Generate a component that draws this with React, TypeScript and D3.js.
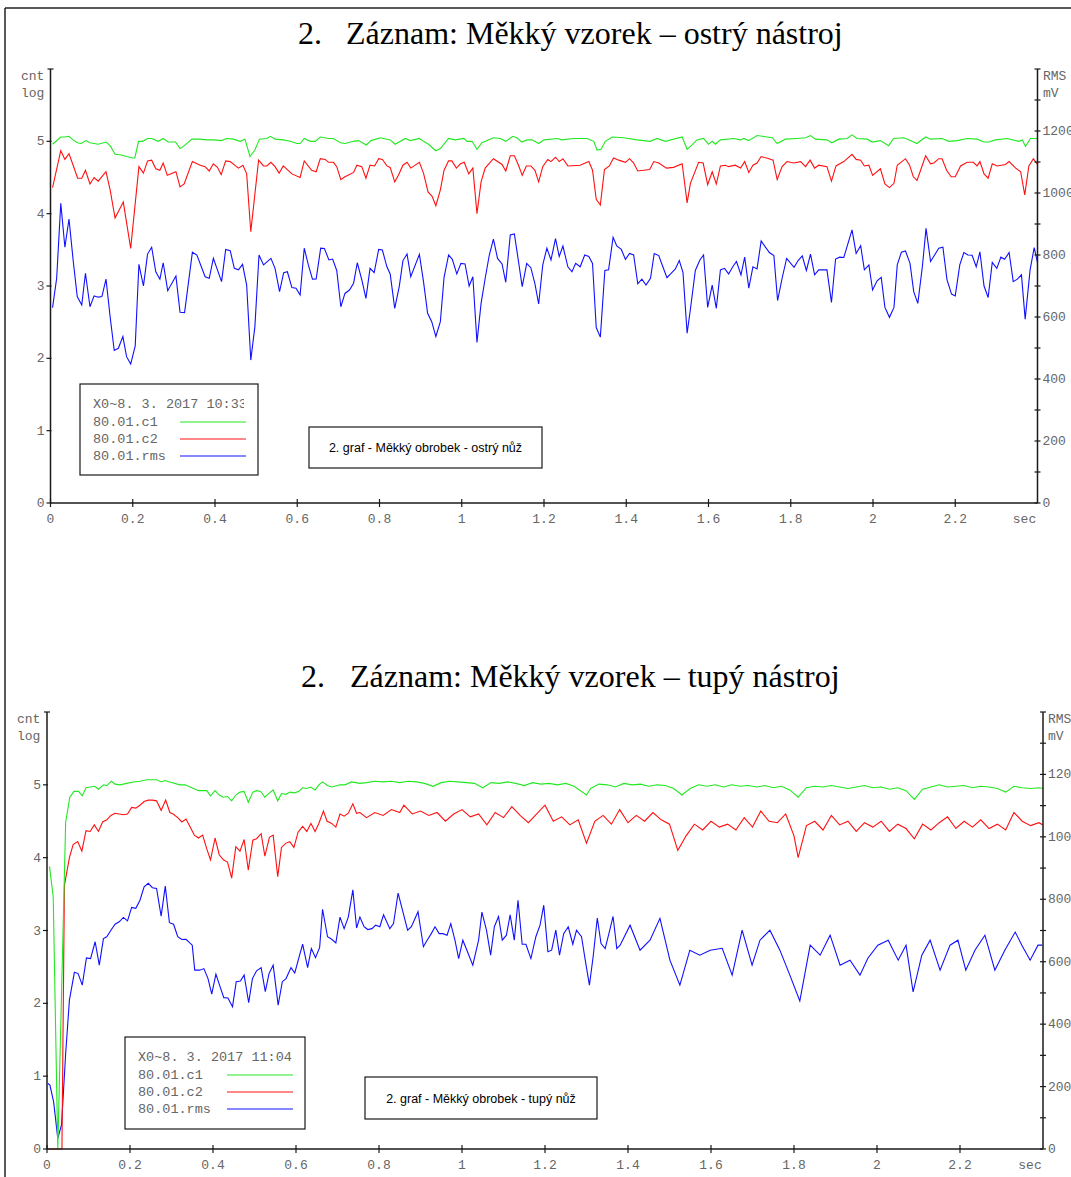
import React from "react";
import * as d3 from "d3";

type Pt = [number, number];

// ---------- shared axis data ----------
const X_TICKS = [0, 0.2, 0.4, 0.6, 0.8, 1, 1.2, 1.4, 1.6, 1.8, 2, 2.2];
const X_TICK_LABELS = ["0", "0.2", "0.4", "0.6", "0.8", "1", "1.2", "1.4", "1.6", "1.8", "2", "2.2"];
const X_UNIT = "sec";
const LEFT_TICKS = [0, 1, 2, 3, 4, 5];
const RIGHT_MAJOR = [0, 200, 400, 600, 800, 1000, 1200];
const RIGHT_MINOR = [100, 300, 500, 700, 900, 1100, 1300, 1400];
const SERIES_NAMES = ["80.01.c1", "80.01.c2", "80.01.rms"];
const SERIES_COLORS = ["#22e822", "#ff1010", "#1010ff"];

// ---------- panel 1: ostrý nástroj ----------
const TITLE_1 = "Záznam: Měkký vzorek – ostrý nástroj";
const STAMP_1 = "X0~8. 3. 2017 10:33";
const NOTE_1 = "2. graf - Měkký obrobek - ostrý nůž";

const TOP_C1: Pt[] = [
  [0.005,4.96],[0.025,5.06],[0.035,5.06],[0.045,5.07],[0.055,5.02],[0.065,4.98],[0.075,4.97],[0.086,5.01],[0.096,4.98],[0.116,4.96],
  [0.135,4.99],[0.145,4.94],[0.157,4.82],[0.173,4.81],[0.185,4.79],[0.2,4.77],[0.205,4.77],[0.214,5.0],[0.224,5.0],[0.236,5.04],
  [0.246,5.04],[0.262,5.0],[0.274,5.04],[0.286,4.99],[0.304,4.99],[0.315,4.9],[0.323,4.93],[0.344,5.03],[0.364,5.03],[0.38,5.02],
  [0.396,5.02],[0.416,5.01],[0.428,5.04],[0.445,5.03],[0.461,5.0],[0.473,5.03],[0.485,4.79],[0.497,4.88],[0.508,5.03],[0.526,5.04],
  [0.535,5.07],[0.546,5.03],[0.566,5.02],[0.583,5.0],[0.599,4.97],[0.607,4.97],[0.617,5.04],[0.632,5.0],[0.644,5.0],[0.656,5.06],
  [0.676,5.04],[0.688,5.04],[0.705,4.98],[0.716,4.97],[0.737,5.0],[0.749,5.01],[0.768,4.95],[0.779,5.01],[0.802,5.05],[0.826,5.02],
  [0.838,4.96],[0.863,5.04],[0.875,5.01],[0.897,5.04],[0.907,5.0],[0.919,4.96],[0.937,4.87],[0.948,4.9],[0.968,5.04],[0.984,5.02],
  [1.005,5.04],[1.013,5.0],[1.025,5.0],[1.037,4.89],[1.049,4.98],[1.077,5.05],[1.094,5.04],[1.107,5.0],[1.124,5.07],[1.134,5.05],
  [1.146,4.99],[1.159,5.02],[1.171,5.02],[1.187,4.97],[1.2,5.02],[1.232,5.04],[1.244,5.02],[1.272,5.04],[1.305,5.04],[1.321,5.0],
  [1.329,4.88],[1.339,4.89],[1.349,5.0],[1.366,5.06],[1.394,5.05],[1.426,5.02],[1.459,5.0],[1.475,5.04],[1.495,5.0],[1.536,5.06],
  [1.548,4.89],[1.56,4.95],[1.572,5.02],[1.588,5.04],[1.6,4.96],[1.609,5.0],[1.617,4.96],[1.629,5.02],[1.661,5.04],[1.678,5.02],
  [1.686,5.04],[1.698,5.01],[1.718,5.08],[1.755,5.05],[1.767,4.97],[1.787,5.03],[1.815,5.04],[1.836,5.05],[1.848,5.08],[1.86,5.03],
  [1.888,5.02],[1.9,4.98],[1.917,5.03],[1.937,5.04],[1.949,5.09],[1.961,5.04],[1.986,5.03],[1.998,4.99],[2.018,5.01],[2.038,4.94],
  [2.05,5.04],[2.075,5.05],[2.091,5.01],[2.107,4.97],[2.128,5.06],[2.14,5.03],[2.168,5.04],[2.184,5.0],[2.205,5.01],[2.229,5.04],
  [2.253,5.03],[2.27,4.99],[2.282,4.99],[2.298,5.02],[2.326,5.04],[2.355,5.0],[2.363,5.02],[2.371,4.93],[2.383,5.04],[2.4,5.04]
];

const TOP_C2: Pt[] = [
  [0.005,4.36],[0.025,4.87],[0.035,4.75],[0.045,4.83],[0.055,4.67],[0.066,4.49],[0.076,4.49],[0.085,4.6],[0.096,4.41],[0.106,4.5],
  [0.116,4.45],[0.135,4.58],[0.145,4.33],[0.157,3.94],[0.177,4.16],[0.195,3.52],[0.215,4.65],[0.226,4.56],[0.236,4.73],[0.246,4.74],
  [0.256,4.62],[0.266,4.6],[0.274,4.7],[0.284,4.53],[0.305,4.58],[0.315,4.37],[0.325,4.41],[0.345,4.72],[0.364,4.67],[0.376,4.65],
  [0.386,4.59],[0.396,4.69],[0.406,4.64],[0.415,4.54],[0.426,4.73],[0.437,4.72],[0.457,4.63],[0.468,4.67],[0.477,4.55],[0.487,3.75],
  [0.506,4.74],[0.518,4.66],[0.526,4.66],[0.536,4.71],[0.546,4.65],[0.556,4.56],[0.566,4.66],[0.587,4.55],[0.607,4.5],[0.617,4.73],
  [0.635,4.6],[0.646,4.58],[0.656,4.76],[0.668,4.75],[0.676,4.71],[0.688,4.71],[0.696,4.65],[0.706,4.47],[0.716,4.51],[0.737,4.57],
  [0.745,4.67],[0.757,4.65],[0.767,4.49],[0.777,4.67],[0.788,4.66],[0.798,4.76],[0.807,4.75],[0.818,4.66],[0.826,4.64],[0.837,4.44],
  [0.846,4.53],[0.857,4.67],[0.867,4.71],[0.876,4.63],[0.897,4.71],[0.907,4.56],[0.918,4.3],[0.928,4.24],[0.937,4.11],[0.948,4.33],
  [0.957,4.6],[0.968,4.73],[0.976,4.73],[0.987,4.63],[0.997,4.69],[1.006,4.71],[1.017,4.55],[1.027,4.63],[1.037,4.0],[1.047,4.44],
  [1.057,4.63],[1.077,4.76],[1.098,4.68],[1.107,4.59],[1.118,4.8],[1.128,4.8],[1.138,4.67],[1.147,4.53],[1.157,4.66],[1.168,4.66],
  [1.178,4.6],[1.187,4.44],[1.197,4.65],[1.209,4.75],[1.217,4.72],[1.228,4.78],[1.237,4.72],[1.246,4.76],[1.258,4.66],[1.288,4.67],
  [1.309,4.72],[1.318,4.6],[1.327,4.2],[1.337,4.12],[1.347,4.61],[1.359,4.66],[1.369,4.77],[1.382,4.74],[1.398,4.71],[1.408,4.76],
  [1.418,4.7],[1.428,4.59],[1.457,4.61],[1.467,4.72],[1.479,4.7],[1.498,4.63],[1.515,4.64],[1.536,4.69],[1.548,4.15],[1.556,4.42],
  [1.576,4.71],[1.587,4.7],[1.598,4.4],[1.609,4.58],[1.619,4.41],[1.629,4.66],[1.641,4.67],[1.649,4.65],[1.665,4.67],[1.678,4.63],
  [1.688,4.72],[1.698,4.57],[1.708,4.67],[1.718,4.7],[1.728,4.79],[1.747,4.76],[1.757,4.74],[1.767,4.47],[1.779,4.65],[1.791,4.72],
  [1.807,4.7],[1.824,4.72],[1.836,4.65],[1.847,4.74],[1.858,4.63],[1.868,4.67],[1.888,4.65],[1.899,4.45],[1.91,4.66],[1.929,4.72],
  [1.949,4.82],[1.959,4.75],[1.97,4.74],[1.979,4.66],[1.99,4.67],[1.999,4.53],[2.018,4.62],[2.029,4.41],[2.04,4.36],[2.051,4.42],
  [2.059,4.67],[2.079,4.76],[2.089,4.67],[2.098,4.51],[2.107,4.46],[2.128,4.8],[2.14,4.69],[2.148,4.7],[2.16,4.76],[2.168,4.76],
  [2.179,4.6],[2.19,4.51],[2.2,4.51],[2.213,4.66],[2.229,4.71],[2.244,4.71],[2.253,4.66],[2.26,4.72],[2.27,4.55],[2.28,4.49],
  [2.29,4.69],[2.302,4.66],[2.322,4.68],[2.331,4.72],[2.347,4.63],[2.359,4.58],[2.369,4.26],[2.379,4.66],[2.39,4.76],[2.4,4.68]
];

const TOP_RMS: Pt[] = [
  [0.005,630],[0.015,725],[0.025,967],[0.035,825],[0.045,916],[0.055,784],[0.065,666],[0.076,639],[0.085,741],[0.096,633],
  [0.106,668],[0.116,664],[0.125,666],[0.135,722],[0.145,601],[0.155,492],[0.165,499],[0.176,537],[0.185,472],[0.195,448],
  [0.206,507],[0.215,770],[0.226,700],[0.236,803],[0.246,825],[0.256,746],[0.266,722],[0.274,775],[0.285,685],[0.305,732],
  [0.315,615],[0.326,614],[0.345,809],[0.356,800],[0.376,730],[0.386,725],[0.396,789],[0.416,714],[0.426,818],[0.437,814],
  [0.447,757],[0.457,752],[0.467,770],[0.477,703],[0.487,461],[0.497,569],[0.507,800],[0.518,768],[0.536,789],[0.546,757],
  [0.557,682],[0.567,743],[0.576,746],[0.587,695],[0.597,693],[0.607,671],[0.617,822],[0.627,768],[0.637,722],[0.646,723],
  [0.657,822],[0.666,821],[0.677,784],[0.686,787],[0.696,750],[0.706,633],[0.716,676],[0.727,687],[0.737,709],[0.746,775],
  [0.757,720],[0.767,660],[0.777,757],[0.787,743],[0.798,818],[0.807,816],[0.818,762],[0.826,739],[0.837,628],[0.848,698],
  [0.857,782],[0.867,803],[0.876,730],[0.897,802],[0.907,714],[0.917,612],[0.927,585],[0.937,537],[0.948,585],[0.957,728],
  [0.968,800],[0.977,786],[0.988,739],[0.998,773],[1.008,771],[1.018,700],[1.027,730],[1.037,518],[1.047,644],[1.057,725],
  [1.067,800],[1.077,851],[1.087,789],[1.098,771],[1.107,712],[1.118,865],[1.128,868],[1.138,779],[1.147,698],[1.158,773],
  [1.168,759],[1.178,707],[1.187,642],[1.197,768],[1.207,822],[1.217,784],[1.228,853],[1.237,795],[1.246,829],[1.258,762],
  [1.268,746],[1.277,773],[1.288,762],[1.299,800],[1.309,795],[1.318,773],[1.327,566],[1.337,535],[1.348,750],[1.357,752],
  [1.368,857],[1.377,829],[1.388,818],[1.398,786],[1.408,805],[1.418,800],[1.428,707],[1.438,722],[1.448,703],[1.459,725],
  [1.468,805],[1.479,798],[1.489,762],[1.499,727],[1.509,741],[1.519,754],[1.529,782],[1.538,743],[1.548,548],[1.556,625],
  [1.568,750],[1.579,784],[1.588,800],[1.598,631],[1.609,703],[1.619,628],[1.629,752],[1.639,757],[1.649,739],[1.659,762],
  [1.668,779],[1.679,736],[1.688,793],[1.698,693],[1.708,762],[1.718,755],[1.728,845],[1.748,808],[1.759,798],[1.768,653],
  [1.779,725],[1.79,789],[1.808,760],[1.818,782],[1.828,797],[1.838,750],[1.848,803],[1.858,736],[1.868,752],[1.888,752],
  [1.899,647],[1.909,787],[1.919,793],[1.929,792],[1.949,881],[1.959,805],[1.97,830],[1.979,752],[1.99,768],[1.999,687],
  [2.01,717],[2.02,728],[2.029,631],[2.04,599],[2.051,631],[2.059,768],[2.069,809],[2.079,813],[2.09,773],[2.099,682],
  [2.109,644],[2.12,762],[2.129,886],[2.14,779],[2.16,822],[2.17,825],[2.18,720],[2.191,674],[2.2,668],[2.211,768],
  [2.221,808],[2.231,800],[2.241,799],[2.251,762],[2.26,810],[2.27,700],[2.28,663],[2.29,776],[2.301,757],[2.311,793],
  [2.32,786],[2.331,808],[2.341,714],[2.351,722],[2.361,736],[2.37,593],[2.382,752],[2.392,824],[2.4,775]
];

// ---------- panel 2: tupý nástroj ----------
const TITLE_2 = "Záznam: Měkký vzorek – tupý nástroj";
const STAMP_2 = "X0~8. 3. 2017 11:04";
const NOTE_2 = "2. graf - Měkký obrobek - tupý nůž";

const BOT_C1: Pt[] = [
  [0.006,3.88],[0.015,3.46],[0.026,0.0],[0.045,4.49],[0.055,4.83],[0.065,4.91],[0.076,4.91],[0.085,4.85],[0.094,4.96],[0.105,4.97],
  [0.115,4.98],[0.124,4.94],[0.136,5.0],[0.144,4.99],[0.155,5.05],[0.164,5.01],[0.176,5.0],[0.192,5.02],[0.208,5.04],[0.224,5.05],
  [0.24,5.07],[0.256,5.07],[0.264,5.07],[0.276,5.04],[0.284,5.06],[0.296,5.04],[0.32,5.0],[0.333,5.0],[0.349,4.96],[0.365,4.92],
  [0.385,4.92],[0.394,4.85],[0.405,4.92],[0.415,4.86],[0.425,4.83],[0.435,4.84],[0.445,4.78],[0.455,4.86],[0.465,4.9],[0.475,4.91],
  [0.485,4.76],[0.496,4.9],[0.505,4.92],[0.515,4.91],[0.525,4.83],[0.536,4.89],[0.545,4.93],[0.556,4.78],[0.565,4.88],[0.576,4.87],
  [0.585,4.9],[0.597,4.89],[0.607,4.91],[0.616,4.96],[0.626,4.95],[0.635,4.97],[0.646,4.93],[0.655,5.0],[0.664,5.04],[0.676,4.99],
  [0.686,4.97],[0.706,5.0],[0.718,5.0],[0.734,5.04],[0.754,5.02],[0.77,5.03],[0.79,5.05],[0.81,5.04],[0.83,5.05],[0.85,5.03],
  [0.87,5.05],[0.89,5.04],[0.91,5.02],[0.93,4.98],[0.95,5.03],[0.97,5.05],[0.99,5.04],[1.01,5.03],[1.03,5.02],[1.05,4.96],
  [1.07,5.03],[1.09,5.02],[1.11,5.04],[1.13,5.02],[1.15,4.99],[1.17,5.03],[1.19,5.01],[1.21,5.02],[1.23,5.0],[1.25,5.02],
  [1.27,4.98],[1.3,4.86],[1.31,4.95],[1.33,5.01],[1.35,5.0],[1.37,4.97],[1.39,5.02],[1.41,5.0],[1.43,5.01],[1.45,4.98],
  [1.47,5.0],[1.49,4.99],[1.51,4.95],[1.53,4.86],[1.55,4.95],[1.57,5.0],[1.59,4.98],[1.61,5.0],[1.63,4.97],[1.65,5.0],
  [1.67,4.98],[1.69,4.99],[1.71,4.97],[1.73,4.99],[1.75,4.96],[1.77,4.98],[1.79,4.93],[1.81,4.83],[1.83,4.96],[1.85,4.98],
  [1.87,4.97],[1.89,4.99],[1.91,4.97],[1.93,4.95],[1.95,4.97],[1.97,4.99],[1.99,4.96],[2.01,4.97],[2.03,4.94],[2.05,4.96],
  [2.07,4.92],[2.09,4.8],[2.11,4.94],[2.13,4.97],[2.15,5.0],[2.17,4.97],[2.19,4.98],[2.21,4.99],[2.23,4.96],[2.25,4.98],
  [2.27,4.97],[2.29,4.95],[2.31,4.9],[2.33,4.98],[2.35,4.96],[2.37,4.95],[2.39,4.96],[2.4,4.95]
];

const BOT_C2: Pt[] = [
  [0.0,0.0],[0.036,0.0],[0.042,3.62],[0.054,4.0],[0.063,4.18],[0.074,4.22],[0.084,4.09],[0.094,4.37],[0.104,4.36],[0.114,4.45],
  [0.124,4.36],[0.134,4.49],[0.144,4.52],[0.154,4.58],[0.164,4.61],[0.174,4.6],[0.184,4.59],[0.194,4.6],[0.204,4.69],[0.214,4.68],
  [0.224,4.72],[0.234,4.77],[0.244,4.79],[0.254,4.79],[0.264,4.78],[0.275,4.65],[0.286,4.79],[0.296,4.62],[0.304,4.6],[0.315,4.55],
  [0.325,4.49],[0.335,4.53],[0.345,4.42],[0.355,4.31],[0.365,4.27],[0.375,4.31],[0.385,4.12],[0.394,3.97],[0.405,4.27],[0.415,4.04],
  [0.425,3.97],[0.435,3.94],[0.445,3.72],[0.455,4.15],[0.465,4.09],[0.475,4.25],[0.485,3.83],[0.496,4.24],[0.505,4.26],[0.516,4.33],
  [0.525,4.02],[0.536,4.28],[0.545,4.31],[0.556,3.74],[0.565,4.14],[0.576,4.2],[0.585,4.22],[0.595,4.14],[0.605,4.35],[0.616,4.43],
  [0.626,4.36],[0.636,4.47],[0.646,4.36],[0.655,4.47],[0.666,4.64],[0.675,4.5],[0.686,4.47],[0.696,4.42],[0.706,4.6],[0.716,4.57],
  [0.726,4.61],[0.737,4.74],[0.746,4.61],[0.754,4.62],[0.77,4.55],[0.79,4.62],[0.81,4.58],[0.83,4.66],[0.85,4.62],[0.86,4.72],
  [0.88,4.6],[0.9,4.64],[0.92,4.58],[0.94,4.62],[0.96,4.5],[0.98,4.6],[1.0,4.66],[1.02,4.56],[1.04,4.6],[1.06,4.45],
  [1.08,4.62],[1.1,4.55],[1.12,4.7],[1.14,4.58],[1.16,4.48],[1.18,4.6],[1.2,4.72],[1.22,4.5],[1.24,4.56],[1.26,4.45],
  [1.28,4.52],[1.3,4.2],[1.32,4.5],[1.34,4.58],[1.36,4.46],[1.38,4.66],[1.4,4.48],[1.42,4.58],[1.44,4.5],[1.46,4.62],
  [1.48,4.52],[1.5,4.46],[1.52,4.1],[1.54,4.3],[1.56,4.46],[1.58,4.38],[1.6,4.5],[1.62,4.42],[1.64,4.46],[1.66,4.38],
  [1.68,4.55],[1.7,4.42],[1.72,4.64],[1.74,4.5],[1.76,4.48],[1.78,4.6],[1.8,4.3],[1.81,4.0],[1.83,4.44],[1.85,4.5],
  [1.87,4.38],[1.89,4.58],[1.91,4.45],[1.93,4.5],[1.95,4.36],[1.97,4.48],[1.99,4.42],[2.01,4.5],[2.03,4.36],[2.05,4.46],
  [2.07,4.4],[2.09,4.26],[2.11,4.46],[2.13,4.38],[2.15,4.48],[2.17,4.56],[2.19,4.4],[2.21,4.5],[2.23,4.42],[2.25,4.52],
  [2.27,4.4],[2.29,4.46],[2.31,4.38],[2.33,4.62],[2.35,4.5],[2.37,4.44],[2.39,4.48],[2.4,4.45]
];

const BOT_RMS: Pt[] = [
  [0.002,210],[0.007,205],[0.016,151],[0.026,34],[0.035,77],[0.045,306],[0.054,477],[0.066,566],[0.075,562],[0.085,525],
  [0.095,612],[0.105,610],[0.116,664],[0.126,589],[0.136,674],[0.144,680],[0.154,701],[0.164,720],[0.174,728],[0.184,742],
  [0.194,731],[0.204,774],[0.214,771],[0.224,797],[0.234,840],[0.244,851],[0.254,837],[0.264,835],[0.275,746],[0.285,842],
  [0.295,725],[0.305,720],[0.315,680],[0.325,671],[0.335,672],[0.35,653],[0.356,573],[0.368,573],[0.378,578],[0.388,546],
  [0.397,496],[0.407,560],[0.417,520],[0.426,485],[0.436,484],[0.447,456],[0.456,536],[0.466,538],[0.475,557],[0.486,469],
  [0.495,546],[0.505,571],[0.516,581],[0.526,504],[0.535,562],[0.545,589],[0.557,461],[0.567,536],[0.576,546],[0.588,581],
  [0.597,564],[0.609,623],[0.616,656],[0.628,581],[0.637,642],[0.647,613],[0.657,646],[0.664,768],[0.676,680],[0.686,672],
  [0.696,660],[0.706,743],[0.716,706],[0.726,743],[0.737,830],[0.746,708],[0.754,743],[0.764,712],[0.773,703],[0.783,706],
  [0.792,717],[0.802,712],[0.811,750],[0.826,706],[0.835,722],[0.846,820],[0.869,701],[0.878,712],[0.894,760],[0.907,648],
  [0.916,669],[0.926,690],[0.935,712],[0.945,690],[0.954,690],[0.964,685],[0.973,722],[0.983,669],[0.992,610],[1.002,669],
  [1.011,639],[1.026,589],[1.04,669],[1.048,759],[1.059,701],[1.069,621],[1.078,712],[1.088,745],[1.097,669],[1.107,685],
  [1.116,750],[1.126,669],[1.135,797],[1.145,656],[1.154,656],[1.166,610],[1.178,680],[1.188,717],[1.197,781],[1.207,632],
  [1.216,637],[1.226,701],[1.235,621],[1.245,690],[1.256,712],[1.267,656],[1.276,701],[1.288,680],[1.297,605],[1.307,525],
  [1.316,616],[1.326,740],[1.335,658],[1.345,642],[1.354,690],[1.364,745],[1.373,642],[1.381,653],[1.405,717],[1.429,637],
  [1.453,669],[1.477,739],[1.501,605],[1.525,525],[1.549,637],[1.573,621],[1.598,637],[1.627,643],[1.651,557],[1.675,701],
  [1.699,589],[1.718,669],[1.742,701],[1.766,637],[1.79,557],[1.814,474],[1.839,653],[1.863,621],[1.887,685],[1.911,589],
  [1.935,605],[1.959,557],[1.978,611],[2.002,653],[2.027,669],[2.051,605],[2.07,653],[2.087,503],[2.108,621],[2.128,669],
  [2.152,573],[2.176,653],[2.195,669],[2.214,573],[2.236,637],[2.26,685],[2.284,573],[2.308,637],[2.333,695],[2.349,653],
  [2.369,605],[2.388,653],[2.398,653]
];

// ---------- drawing ----------
const MONO = "'Liberation Mono', 'DejaVu Sans Mono', monospace";
const SERIF = "'Liberation Serif', 'DejaVu Serif', serif";
const SANS = "'Liberation Sans', Arial, sans-serif";
const AXIS = "#1a1a1a";
const LABEL = "#666";

type PanelProps = {
  title: string;
  titleY: number;
  numX: number;
  restX: number;
  x0: number;
  x1: number;
  yTop: number;
  yBot: number;
  c1: Pt[];
  c2: Pt[];
  rms: Pt[];
  stamp: string;
  note: string;
  legend: { x: number; y: number; w: number; h: number; clipW: number };
  noteBox: { x: number; y: number; w: number; h: number };
  unitLX: number;
  unitRX: number;
  id: string;
};

function Panel(p: PanelProps) {
  const x = d3.scaleLinear().domain([0, 2.4]).range([p.x0, p.x1]);
  const yL = d3.scaleLinear().domain([0, 6]).range([p.yBot, p.yTop]);
  const yR = d3.scaleLinear().domain([0, 1400]).range([p.yBot, p.yTop]);
  const lineL = d3.line<Pt>().x((d) => x(d[0])).y((d) => yL(d[1]));
  const lineR = d3.line<Pt>().x((d) => x(d[0])).y((d) => yR(d[1]));
  const L = p.legend;
  const N = p.noteBox;
  return (
    <g>
      <text x={p.numX} y={p.titleY} fontFamily={SERIF} fontSize={32} fill="#000">2.</text>
      <text x={p.restX} y={p.titleY} fontFamily={SERIF} fontSize={32} fill="#000">{p.title}</text>

      {/* series */}
      <path d={lineR(p.rms) || ""} fill="none" stroke={SERIES_COLORS[2]} strokeWidth={1.1} />
      <path d={lineL(p.c2) || ""} fill="none" stroke={SERIES_COLORS[1]} strokeWidth={1.1} />
      <path d={lineL(p.c1) || ""} fill="none" stroke={SERIES_COLORS[0]} strokeWidth={1.1} />

      {/* left axis */}
      <line x1={p.x0} x2={p.x0} y1={p.yTop} y2={p.yBot} stroke={AXIS} strokeWidth={1.5} />
      <line x1={p.x0 - 3} x2={p.x0 + 3} y1={p.yTop} y2={p.yTop} stroke={AXIS} strokeWidth={1.2} />
      {LEFT_TICKS.map((t) => (
        <g key={"l" + t}>
          <line x1={p.x0 - 4} x2={p.x0 + 1} y1={yL(t)} y2={yL(t)} stroke={AXIS} strokeWidth={1.2} />
          <text x={p.x0 - 6} y={yL(t) + 4} textAnchor="end" fontFamily={MONO} fontSize={13} fill={LABEL}>{t}</text>
        </g>
      ))}
      <text x={p.unitLX} y={p.yTop + 11} fontFamily={MONO} fontSize={13} fill={LABEL}>cnt</text>
      <text x={p.unitLX} y={p.yTop + 28} fontFamily={MONO} fontSize={13} fill={LABEL}>log</text>

      {/* right axis */}
      <line x1={p.x1} x2={p.x1} y1={p.yTop} y2={p.yBot} stroke={AXIS} strokeWidth={1.5} />
      {RIGHT_MINOR.map((t) => (
        <line key={"rm" + t} x1={p.x1 - 3} x2={p.x1 + 3} y1={yR(t)} y2={yR(t)} stroke={AXIS} strokeWidth={1.2} />
      ))}
      {RIGHT_MAJOR.map((t) => (
        <g key={"r" + t}>
          <line x1={p.x1 - 3} x2={p.x1 + 3} y1={yR(t)} y2={yR(t)} stroke={AXIS} strokeWidth={1.2} />
          <text x={p.x1 + 5} y={yR(t) + 4} fontFamily={MONO} fontSize={13} fill={LABEL}>{t}</text>
        </g>
      ))}
      <text x={p.unitRX} y={p.yTop + 11} fontFamily={MONO} fontSize={13} fill={LABEL}>RMS</text>
      <text x={p.unitRX} y={p.yTop + 28} fontFamily={MONO} fontSize={13} fill={LABEL}>mV</text>

      {/* x axis */}
      <line x1={p.x0} x2={p.x1} y1={p.yBot} y2={p.yBot} stroke={AXIS} strokeWidth={1.5} />
      {X_TICKS.map((t, i) => (
        <g key={"x" + i}>
          <line x1={x(t)} x2={x(t)} y1={p.yBot - 4} y2={p.yBot + 4} stroke={AXIS} strokeWidth={1.2} />
          <text x={x(t)} y={p.yBot + 20} textAnchor="middle" fontFamily={MONO} fontSize={13} fill={LABEL}>{X_TICK_LABELS[i]}</text>
        </g>
      ))}
      <text x={x(2.4) - 13} y={p.yBot + 20} textAnchor="middle" fontFamily={MONO} fontSize={13} fill={LABEL}>{X_UNIT}</text>

      {/* legend */}
      <defs>
        <clipPath id={"clip" + p.id}>
          <rect x={L.x} y={L.y} width={L.clipW} height={L.h} />
        </clipPath>
      </defs>
      <rect x={L.x} y={L.y} width={L.w} height={L.h} fill="#fff" stroke={AXIS} strokeWidth={1.2} />
      <g clipPath={`url(#clip${p.id})`}>
        <text x={L.x + 13} y={L.y + 24} fontFamily={MONO} fontSize={13.5} fill={LABEL}>{p.stamp}</text>
      </g>
      {SERIES_NAMES.map((s, i) => (
        <g key={s}>
          <text x={L.x + 13} y={L.y + 42 + i * 17} fontFamily={MONO} fontSize={13.5} fill={LABEL}>{s}</text>
          <line x1={L.x + L.w - 78} x2={L.x + L.w - 12} y1={L.y + 38 + i * 17} y2={L.y + 38 + i * 17} stroke={SERIES_COLORS[i]} strokeWidth={1.2} />
        </g>
      ))}

      {/* note box */}
      <rect x={N.x} y={N.y} width={N.w} height={N.h} fill="#fff" stroke={AXIS} strokeWidth={1.2} />
      <text x={N.x + N.w / 2} y={N.y + N.h / 2 + 4.5} textAnchor="middle" fontFamily={SANS} fontSize={12.5} fill="#000">{p.note}</text>
    </g>
  );
}

export default function App() {
  return (
    <svg width={1071} height={1177} style={{ position: "absolute", left: 0, top: 0, background: "#fff" }}>
      <rect x={0} y={0} width={1071} height={1177} fill="#fff" />
      <line x1={5} x2={1071} y1={8} y2={8} stroke="#222" strokeWidth={1.5} />
      <line x1={5} x2={5} y1={8} y2={1177} stroke="#222" strokeWidth={1.5} />
      <Panel
        id="a"
        title={TITLE_1}
        titleY={44}
        numX={298}
        restX={346}
        x0={50.5}
        x1={1037.5}
        yTop={69}
        yBot={503}
        c1={TOP_C1}
        c2={TOP_C2}
        rms={TOP_RMS}
        stamp={STAMP_1}
        note={NOTE_1}
        legend={{ x: 80, y: 384, w: 178, h: 91, clipW: 164 }}
        noteBox={{ x: 309, y: 427, w: 233, h: 41 }}
        unitLX={21}
        unitRX={1043}
      />
      <Panel
        id="b"
        title={TITLE_2}
        titleY={687}
        numX={301}
        restX={350}
        x0={47}
        x1={1043}
        yTop={712}
        yBot={1149}
        c1={BOT_C1}
        c2={BOT_C2}
        rms={BOT_RMS}
        stamp={STAMP_2}
        note={NOTE_2}
        legend={{ x: 125, y: 1037, w: 180, h: 92, clipW: 180 }}
        noteBox={{ x: 365, y: 1077, w: 232, h: 42 }}
        unitLX={17}
        unitRX={1048}
      />
    </svg>
  );
}
